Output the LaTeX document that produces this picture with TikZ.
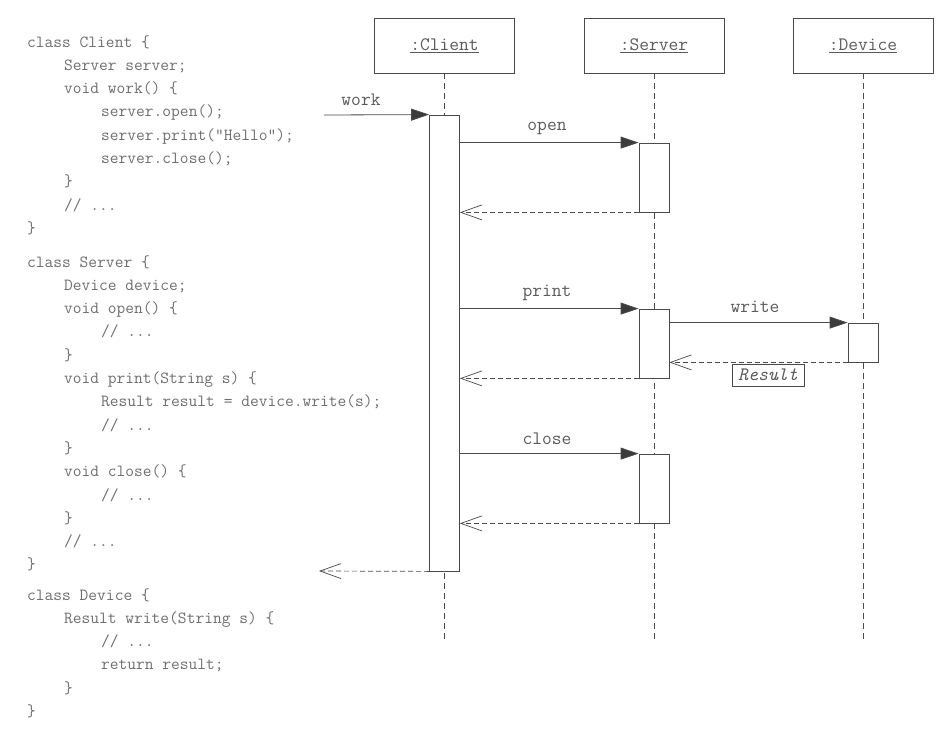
\documentclass[tikz,border=0pt]{standalone}
\usepackage{fontspec}
\usetikzlibrary{arrows.meta}
\definecolor{ink}{HTML}{4A4A4A}
\definecolor{labelgray}{HTML}{5A5A5A}
\definecolor{codegray}{HTML}{6E6E6E}
\newcommand\codeind{\hspace*{37pt}}
\begin{document}
\begin{tikzpicture}[x=1pt,y=-1pt,
  head/.style={draw=ink,line width=0.8pt,minimum width=140pt,minimum height=55pt,
    font=\ttfamily\fontsize{19}{20}\selectfont,text=labelgray,inner sep=0pt},
  lifeline/.style={draw=ink,line width=0.7pt,dash pattern=on 6pt off 4pt},
  activation/.style={draw=ink,fill=white,line width=0.8pt,minimum width=30pt,inner sep=0pt},
  call/.style={draw=ink,line width=0.8pt,-{Triangle[length=18pt,width=12pt,fill=ink!80!black]}},
  reply/.style={draw=ink,line width=0.7pt,dash pattern=on 5pt off 3pt,
    -{Straight Barb[length=21pt,width=15pt,line width=0.7pt]}},
  msg/.style={font=\ttfamily\fontsize{19}{20}\selectfont,text=labelgray,inner sep=0pt},
  code/.style={font=\ttfamily\fontsize{17}{23.3}\selectfont,text=codegray,
    align=left,anchor=base west,inner sep=0pt}
]
\useasboundingbox (0,0) rectangle (942,747);

% source code of the three classes (anchored at the baseline of the last line)
\node[code] (clientcode) at (27,233.4) {class Client \{\\
\codeind Server server;\\
\codeind void work() \{\\
\codeind\codeind server.open();\\
\codeind\codeind server.print("Hello");\\
\codeind\codeind server.close();\\
\codeind \}\\
\codeind // ...\\
\}};
\node[code] (servercode) at (27,569.9) {class Server \{\\
\codeind Device device;\\
\codeind void open() \{\\
\codeind\codeind // ...\\
\codeind \}\\
\codeind void print(String s) \{\\
\codeind\codeind Result result = device.write(s);\\
\codeind\codeind // ...\\
\codeind \}\\
\codeind void close() \{\\
\codeind\codeind // ...\\
\codeind \}\\
\codeind // ...\\
\}};
\node[code] (devicecode) at (27,716.5) {class Device \{\\
\codeind Result write(String s) \{\\
\codeind\codeind // ...\\
\codeind\codeind return result;\\
\codeind \}\\
\}};

% object heads
\node[head] (client) at (444.5,45.5) {\underline{:Client}};
\node[head] (server) at (654,45.5) {\underline{:Server}};
\node[head] (device) at (863,45.5) {\underline{:Device}};

% lifelines
\coordinate (clientEnd) at (444.5,640);
\coordinate (serverEnd) at (654,640);
\coordinate (deviceEnd) at (863,640);
\draw[lifeline] (client.south) -- (clientEnd);
\draw[lifeline] (server.south) -- (serverEnd);
\draw[lifeline] (device.south) -- (deviceEnd);

% activations
\node[activation,minimum height=456pt] (actC) at (444.5,343) {};
\node[activation,minimum height=69pt] (actOpen) at (654,177.5) {};
\node[activation,minimum height=69pt] (actPrint) at (654,343.5) {};
\node[activation,minimum height=39pt] (actWrite) at (863,342.5) {};
\node[activation,minimum height=69pt] (actClose) at (654,488.5) {};

% work
\coordinate (workStart) at (324,115);
\coordinate (workEnd) at (319,571);
\draw[call] (workStart) -- (actC.north west);
\node[msg] (workLabel) at (361,100) {work};
\draw[reply] (actC.south west) -- (workEnd);

% open
\draw[call] (actC.east |- actOpen.north) -- (actOpen.north west);
\node[msg] (openLabel) at (547,128) {open};
\draw[reply] (actOpen.south west) -- (actC.east |- actOpen.south);

% print
\draw[call] (actC.east |- actPrint.north) -- (actPrint.north west);
\node[msg] (printLabel) at (547,293) {print};
\draw[reply] (actPrint.south west) -- (actC.east |- actPrint.south);

% write
\draw[call] (actPrint.east |- actWrite.north) -- (actWrite.north west);
\node[msg] (writeLabel) at (755,307) {write};
\draw[reply] (actWrite.south west) -- (actPrint.east |- actWrite.south);
\node[draw=ink,line width=0.7pt,minimum width=72pt,minimum height=22pt,inner sep=0pt,
  font=\ttfamily\itshape\fontsize{19}{20}\selectfont,text=labelgray] (result) at (768,375) {Result};

% close
\draw[call] (actC.east |- actClose.north) -- (actClose.north west);
\node[msg] (closeLabel) at (547,439) {close};
\draw[reply] (actClose.south west) -- (actC.east |- actClose.south);
\end{tikzpicture}
\end{document}
